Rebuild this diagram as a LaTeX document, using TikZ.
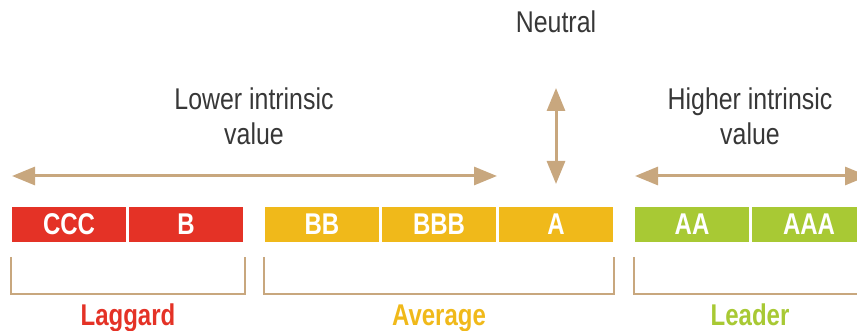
\documentclass[tikz,border=0pt]{standalone}
\usepackage{fontspec}
\setmainfont{Liberation Sans}[FakeStretch=0.83, BoldFeatures={FakeStretch=0.8}]
\usetikzlibrary{arrows.meta}
\definecolor{tanline}{RGB}{200,167,126}
\definecolor{laggardred}{RGB}{228,50,38}
\definecolor{avgyellow}{RGB}{240,185,26}
\definecolor{leadgreen}{RGB}{168,201,52}
\definecolor{textgrey}{RGB}{55,55,55}
\tikzset{
  txt/.style={font=\fontsize{30}{35}\selectfont, text=textgrey, anchor=base, inner sep=0pt},
  rating/.style={rectangle, minimum width=114pt, minimum height=35pt, inner sep=0pt,
    font=\fontsize{30}{35}\selectfont\bfseries, text=white},
  category/.style={font=\fontsize{30}{35}\selectfont\bfseries, anchor=base, inner sep=0pt},
  bracket/.style={draw=tanline, line width=1.8pt},
  valarrow/.style={draw=tanline, line width=3pt, {Triangle[length=23pt,width=18pt]}-{Triangle[length=23pt,width=18pt]}}
}
\begin{document}
\begin{tikzpicture}[x=1pt,y=-1pt]
\useasboundingbox (0,0) rectangle (857,331);

% headings
\node[txt] (neutral) at (556,33) {Neutral};
\node[txt] (lowA) at (254,110) {Lower intrinsic};
\node[txt] (lowB) at (254,145) {value};
\node[txt] (highA) at (750,110) {Higher intrinsic};
\node[txt] (highB) at (750,145) {value};

% value arrows
\coordinate (lowL) at (12,176);
\coordinate (lowR) at (497,176);
\coordinate (highL) at (635,176);
\coordinate (highR) at (868,176);
\coordinate (neuT) at (556,88);
\coordinate (neuB) at (556,184);
\draw[valarrow] (lowL) -- (lowR);
\draw[valarrow] (highL) -- (highR);
\draw[valarrow] (neuT) -- (neuB);

% rating boxes
\node[rating, fill=laggardred] (ccc) at (69,224.5) {CCC};
\node[rating, fill=laggardred] (b)   at (186,224.5) {B};
\node[rating, fill=avgyellow]  (bb)  at (322,224.5) {BB};
\node[rating, fill=avgyellow]  (bbb) at (439,224.5) {BBB};
\node[rating, fill=avgyellow]  (a)   at (556,224.5) {A};
\node[rating, fill=leadgreen]  (aa)  at (692,224.5) {AA};
\node[rating, fill=leadgreen]  (aaa) at (809,224.5) {AAA};

% group brackets
\draw[bracket] (11,257) -- (11,294) -- (245,294) -- (245,257);
\draw[bracket] (264,257) -- (264,294) -- (614,294) -- (614,257);
\draw[bracket] (634,257) -- (634,294) -- (870,294) -- (870,257);

% group labels
\node[category, text=laggardred] (laggard) at (128,325) {Laggard};
\node[category, text=avgyellow]  (average) at (439,325) {Average};
\node[category, text=leadgreen]  (leader)  at (750,325) {Leader};
\end{tikzpicture}
\end{document}
